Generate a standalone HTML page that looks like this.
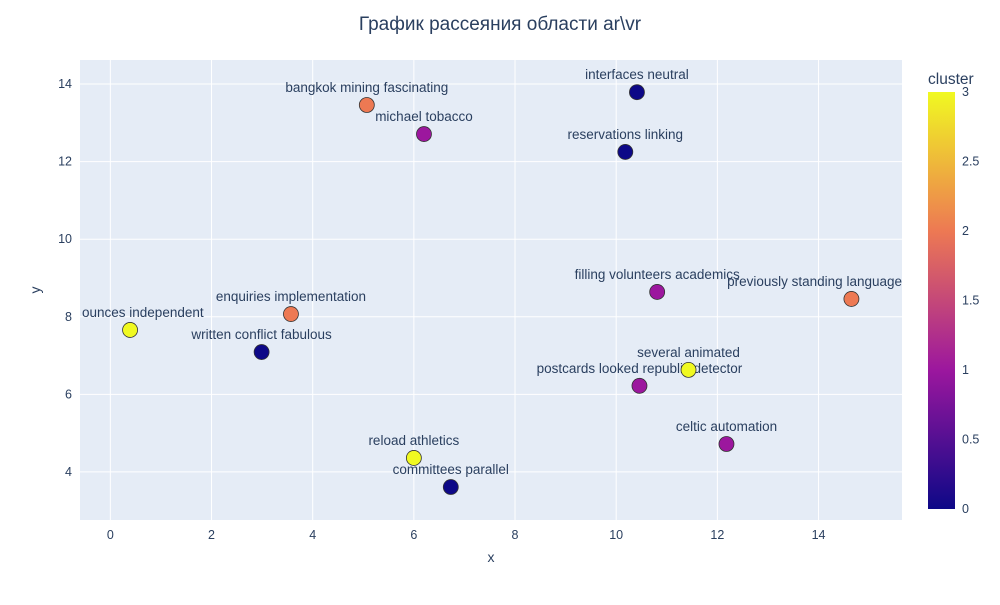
<!DOCTYPE html>
<html><head><meta charset="utf-8"><style>
body{margin:0;background:#fff;font-family:"Liberation Sans","DejaVu Sans",sans-serif}
svg text{font-family:"Liberation Sans","DejaVu Sans",sans-serif;fill:#2a3f5f}
</style></head><body>
<svg id="c" width="1000" height="600" xmlns="http://www.w3.org/2000/svg"></svg>
<script>
const labels=["ounces independent","written conflict fabulous","enquiries implementation","bangkok mining fascinating","michael tobacco","reload athletics","committees parallel","interfaces neutral","reservations linking","filling volunteers academics","postcards looked republic detector","several animated","celtic automation","previously standing language"];
const xs=[0.39,2.99,3.57,5.07,6.2,6.0,6.73,10.41,10.18,10.81,10.46,11.43,12.18,14.65];
const ys=[7.66,7.09,8.07,13.46,12.71,4.36,3.61,13.79,12.25,8.64,6.22,6.63,4.72,8.46];
const clusters=[3,0,2,2,1,3,0,0,0,1,1,3,1,2];
const xTicks=[0,2,4,6,8,10,12,14];
const yTicks=[4,6,8,10,12,14];
const cTicks=[0,0.5,1,1.5,2,2.5,3];
const L=80,R=902,T=60,B=520,xmin=-0.6,xmax=15.65,ymin=2.76,ymax=14.62;
const X=v=>L+(v-xmin)/(xmax-xmin)*(R-L);
const Y=v=>B-(v-ymin)/(ymax-ymin)*(B-T);
const stops=[[0,[13,8,135]],[1/3,[156,23,158]],[2/3,[237,121,83]],[1,[240,249,33]]];
function col(c){const t=c/3;for(let i=1;i<stops.length;i++){if(t<=stops[i][0]){const a=stops[i-1],b=stops[i],f=(t-a[0])/(b[0]-a[0]);return 'rgb('+a[1].map((v,k)=>Math.round(v+(b[1][k]-v)*f)).join(',')+')';}}return 'rgb(240,249,33)';}
const svg=document.getElementById('c');const NS='http://www.w3.org/2000/svg';
function el(t,a,p){const e=document.createElementNS(NS,t);for(const k in a)e.setAttribute(k,a[k]);(p||svg).appendChild(e);return e;}
const defs=el('defs',{});
const bg=el('rect',{x:L,y:T,width:R-L,height:B-T,fill:'#e5ecf6'});


xTicks.forEach(v=>{const g=el('line',{x1:X(v),x2:X(v),y1:T,y2:B,stroke:'#fff','stroke-width':1});


const t=el('text',{x:X(v),y:B+19,'text-anchor':'middle','font-size':12.5});t.textContent=v;

});
yTicks.forEach(v=>{const g=el('line',{x1:L,x2:R,y1:Y(v),y2:Y(v),stroke:'#fff','stroke-width':1});


const t=el('text',{x:L-8,y:Y(v)+4,'text-anchor':'end','font-size':12.5});t.textContent=v;

});
xs.forEach((v,i)=>{const c=el('circle',{cx:X(v),cy:Y(ys[i]),r:7.5,fill:col(clusters[i]),stroke:'#333','stroke-width':0.8});


const t=el('text',{x:X(v),y:Y(ys[i])-13,'text-anchor':'middle','font-size':13.5});t.textContent=labels[i];


const w=t.getComputedTextLength();let cx=X(v);
if(cx-w/2<L+2)cx=L+2+w/2;if(cx+w/2>R)cx=R-w/2;t.setAttribute('x',cx);});
const tt=el('text',{x:500,y:30,'text-anchor':'middle','font-size':19});tt.textContent='График рассеяния области ar\\vr';


const xt=el('text',{x:491,y:562,'text-anchor':'middle','font-size':14});xt.textContent='x';


const yt=el('text',{x:40,y:290,'text-anchor':'middle','font-size':14,transform:'rotate(-90 40 290)'});yt.textContent='y';


const gr=el('linearGradient',{id:'g',x1:0,y1:1,x2:0,y2:0},defs);
stops.forEach(s=>el('stop',{offset:s[0],'stop-color':'rgb('+s[1].join(',')+')'},gr));
const cb=el('rect',{x:928,y:92,width:27,height:417,fill:'url(#g)'});


const cy=v=>509-v/3*417;
cTicks.forEach(v=>{const t=el('text',{x:962,y:cy(v)+4,'font-size':12.5});t.textContent=v;

});
const ct=el('text',{x:928,y:84,'font-size':15.5});ct.textContent='cluster';


</script>
</body></html>
